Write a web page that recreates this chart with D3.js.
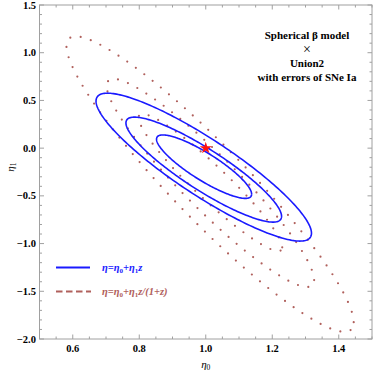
<!DOCTYPE html>
<html>
<head>
<meta charset="utf-8">
<script src="https://cdn.jsdelivr.net/npm/d3@7"></script>
<style>
  html, body { margin: 0; padding: 0; background: #fff; }
  svg { display: block; }
  text { font-family: "Liberation Serif", "DejaVu Serif", serif; }
</style>
</head>
<body>
<svg id="chart" width="374" height="371"></svg>
<script>
// ---- data ----
const xDomain = [0.5, 1.5];
const yDomain = [-2.0, 1.5];
const xTicks = [0.6, 0.8, 1.0, 1.2, 1.4];
const yTicks = [-2.0, -1.5, -1.0, -0.5, 0.0, 0.5, 1.0, 1.5];
const xMinorStep = 0.05;
const yMinorStep = 0.1;

// Linear model contours (1σ, 2σ, 3σ): center, x half-range, y offset of rightmost point, half vertical chord
const linCx    = [0.995, 0.994, 0.994];
const linCy    = [-0.194, -0.225, -0.199];
const linDx    = [0.143, 0.234, 0.324];
const linDyTip = [-0.288, -0.489, -0.692];
const linDyHalf= [0.166, 0.252, 0.349];

// z/(1+z) model contours
const ratCx    = [1.014, 1.014, 1.013];
const ratCy    = [-0.360, -0.365, -0.377];
const ratDx    = [0.216, 0.312, 0.432];
const ratDyTip = [-0.679, -1.017, -1.447];
const ratDyHalf= [0.236, 0.393, 0.550];

const bestFit = [1.0, 0.0];

const annotation = ["Spherical \u03b2 model", "\u00d7", "Union2", "with errors of SNe Ia"];

// ---- drawing ----
(function () {
const svg = d3.select("#chart");
const mLeft = 39.5, mRight = 372, mTop = 5, mBottom = 339;
const x = d3.scaleLinear().domain(xDomain).range([mLeft, mRight]);
const y = d3.scaleLinear().domain(yDomain).range([mBottom, mTop]);

const blue = "#1a1aff";
const brown = "#b0605c";

function ellipsePoints(cx, cy, dx, dyTip, dyHalf) {
  const n = 240;
  return d3.range(n + 1).map(i => {
    const t = 2 * Math.PI * i / n;
    return [cx + dx * Math.cos(t), cy + dyTip * Math.cos(t) + dyHalf * Math.sin(t)];
  });
}
const line = d3.line().x(d => x(d[0])).y(d => y(d[1]));

svg.append("clipPath").attr("id", "clip").append("rect")
  .attr("x", mLeft).attr("y", mTop).attr("width", mRight - mLeft).attr("height", mBottom - mTop);
const plot = svg.append("g").attr("clip-path", "url(#clip)");

// brown dotted contours
ratCx.forEach((cx, i) => {
  plot.append("path")
    .attr("d", line(ellipsePoints(cx, ratCy[i], ratDx[i], ratDyTip[i], ratDyHalf[i])))
    .attr("fill", "none")
    .attr("stroke", brown)
    .attr("stroke-width", 2.2)
    .attr("stroke-linecap", "round")
    .attr("stroke-dasharray", "0 10.6");
});

// blue solid contours
linCx.forEach((cx, i) => {
  plot.append("path")
    .attr("d", line(ellipsePoints(cx, linCy[i], linDx[i], linDyTip[i], linDyHalf[i])))
    .attr("fill", "none")
    .attr("stroke", blue)
    .attr("stroke-width", 1.6);
});

// best fit star
plot.append("path")
  .attr("d", d3.symbol().type(d3.symbolStar).size(45)())
  .attr("transform", `translate(${x(bestFit[0])},${y(bestFit[1])})`)
  .attr("fill", "#ff1010");

// frame
const frameColor = "#a0a0a0";
svg.append("rect")
  .attr("x", mLeft).attr("y", mTop).attr("width", mRight - mLeft).attr("height", mBottom - mTop)
  .attr("fill", "none").attr("stroke", frameColor).attr("stroke-width", 1);

// ticks
const xMinor = d3.range(0.5, 1.5 + 1e-9, xMinorStep).filter(v => !xTicks.some(t => Math.abs(t - v) < 1e-6));
const yMinor = d3.range(-2.0, 1.5 + 1e-9, yMinorStep).filter(v => !yTicks.some(t => Math.abs(t - v) < 1e-6));
const tickG = svg.append("g").attr("stroke", frameColor).attr("stroke-width", 1);
function xTick(v, len) {
  tickG.append("line").attr("x1", x(v)).attr("x2", x(v)).attr("y1", mBottom).attr("y2", mBottom - len);
  tickG.append("line").attr("x1", x(v)).attr("x2", x(v)).attr("y1", mTop).attr("y2", mTop + len);
}
function yTick(v, len) {
  tickG.append("line").attr("y1", y(v)).attr("y2", y(v)).attr("x1", mLeft).attr("x2", mLeft + len);
  tickG.append("line").attr("y1", y(v)).attr("y2", y(v)).attr("x1", mRight).attr("x2", mRight - len);
}
xTicks.forEach(v => xTick(v, 4.5));
xMinor.forEach(v => xTick(v, 2.5));
yTicks.forEach(v => yTick(v, 4.5));
yMinor.forEach(v => yTick(v, 2.5));

// tick labels
const fmt = v => (v < 0 ? "\u2212" : "") + Math.abs(v).toFixed(1);
svg.append("g").selectAll("text").data(xTicks).join("text")
  .attr("x", d => x(d)).attr("y", 352)
  .attr("text-anchor", "middle")
  .attr("font-size", 10.5).attr("font-weight", "bold")
  .text(fmt);
svg.append("g").selectAll("text").data(yTicks).join("text")
  .attr("x", 36).attr("y", d => y(d) + 3.6)
  .attr("text-anchor", "end")
  .attr("font-size", 10.5).attr("font-weight", "bold")
  .text(fmt);

// axis labels
const xl = svg.append("text").attr("x", x(1.0)).attr("y", 368)
  .attr("text-anchor", "middle").attr("font-size", 11).attr("font-style", "italic");
xl.append("tspan").text("\u03b7");
xl.append("tspan").attr("font-size", 7.5).attr("dy", 2).attr("font-style", "normal").text("0");

const yl = svg.append("text").attr("transform", `translate(14,${y(-0.2)}) rotate(-90)`)
  .attr("text-anchor", "middle").attr("font-size", 11).attr("font-style", "italic");
yl.append("tspan").text("\u03b7");
yl.append("tspan").attr("font-size", 7.5).attr("dy", 2).attr("font-style", "normal").text("1");

// annotation
svg.append("g").selectAll("text").data(annotation).join("text")
  .attr("x", 307).attr("y", (d, i) => 39 + i * 14 + (i === 1 ? 1 : 0))
  .attr("text-anchor", "middle")
  .attr("font-size", (d, i) => i === 1 ? 14 : 11)
  .attr("font-weight", (d, i) => i === 1 ? "normal" : "bold")
  .text(d => d);

// legend
const lg = svg.append("g");
lg.append("line").attr("x1", 56).attr("x2", 90).attr("y1", 267.5).attr("y2", 267.5)
  .attr("stroke", blue).attr("stroke-width", 1.8);
lg.append("line").attr("x1", 56).attr("x2", 91).attr("y1", 291.5).attr("y2", 291.5)
  .attr("stroke", brown).attr("stroke-width", 1.8).attr("stroke-dasharray", "6.5 3.5");

function legendText(yPos, color, parts) {
  const t = lg.append("text").attr("x", 102).attr("y", yPos).attr("fill", color)
    .attr("font-size", 10.5).attr("font-style", "italic").attr("font-weight", "bold");
  parts.forEach(p => {
    const s = t.append("tspan").text(p[0]);
    if (p[1]) s.attr("font-size", 7).attr("dy", 2).attr("font-style", "normal");
    if (p[2]) s.attr("dy", -2);
  });
}
legendText(271, blue, [["\u03b7=\u03b7"], ["0", true], ["+\u03b7", false, true], ["1", true], ["z", false, true]]);
legendText(295, brown, [["\u03b7=\u03b7"], ["0", true], ["+\u03b7", false, true], ["1", true], ["z/(1+z)", false, true]]);
})();
</script>
</body>
</html>
